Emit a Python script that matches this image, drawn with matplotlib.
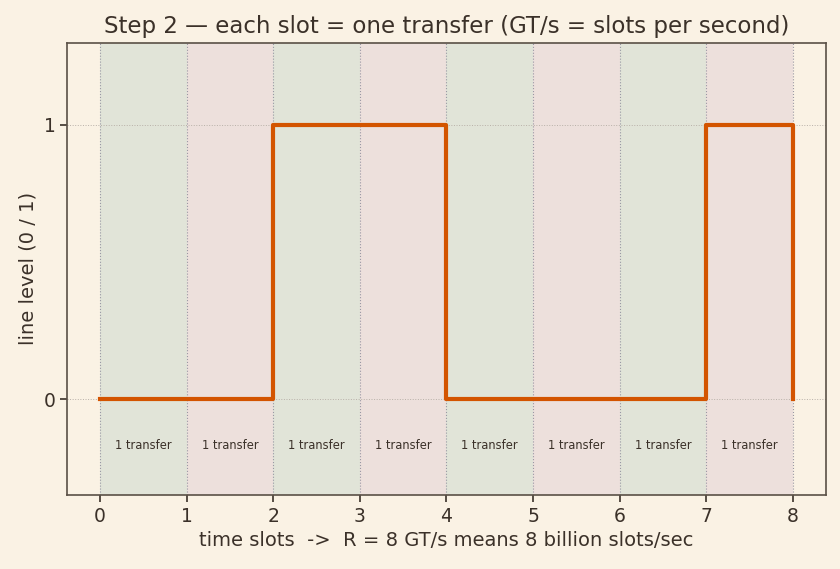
import numpy as np
import matplotlib.pyplot as plt

# bit sequence, one value per time slot
slots = [0, 1, 2, 3, 4, 5, 6, 7, 8]
bits = [0, 0, 1, 1, 0, 0, 0, 1, 0]
slot_labels = ['1 transfer'] * 8

bg = '#faf2e4'
ink = '#3b3129'

fig, ax = plt.subplots(figsize=(8.4, 5.69), dpi=100)
fig.patch.set_facecolor(bg)
ax.set_facecolor(bg)

for i in range(len(slot_labels)):
    col = '#e1e4d8' if i % 2 == 0 else '#ede0dc'
    ax.axvspan(slots[i], slots[i + 1], color=col, zorder=0, lw=0)
    ax.text(slots[i] + 0.5, -0.17, slot_labels[i], ha='center', va='center',
            fontsize=8.3, color=ink)

for x in slots:
    ax.axvline(x, color='#9a98a4', ls=':', lw=0.8, zorder=1)

ax.step(slots, bits, where='post', color='#d35400', lw=3, zorder=3)

ax.set_xlim(-0.38, 8.38)
ax.set_ylim(-0.35, 1.3)
ax.set_xticks(slots)
ax.set_yticks([0, 1])
ax.grid(axis='y', color='#b8b0a8', ls=':', lw=0.7)
ax.set_axisbelow(True)

for s in ax.spines.values():
    s.set_color('#5a5046')
    s.set_linewidth(1.2)
ax.tick_params(colors=ink, labelsize=13.5, length=5, width=1.2)

ax.set_title('Step 2 — each slot = one transfer (GT/s = slots per second)',
             fontsize=16.5, color=ink, pad=7)
ax.set_xlabel('time slots  ->  R = 8 GT/s means 8 billion slots/sec',
              fontsize=14, color=ink)
ax.set_ylabel('line level (0 / 1)', fontsize=14, color=ink)

plt.subplots_adjust(left=0.08, right=0.983, top=0.925, bottom=0.13)
fig.savefig('out.png', dpi=100, facecolor=bg)
